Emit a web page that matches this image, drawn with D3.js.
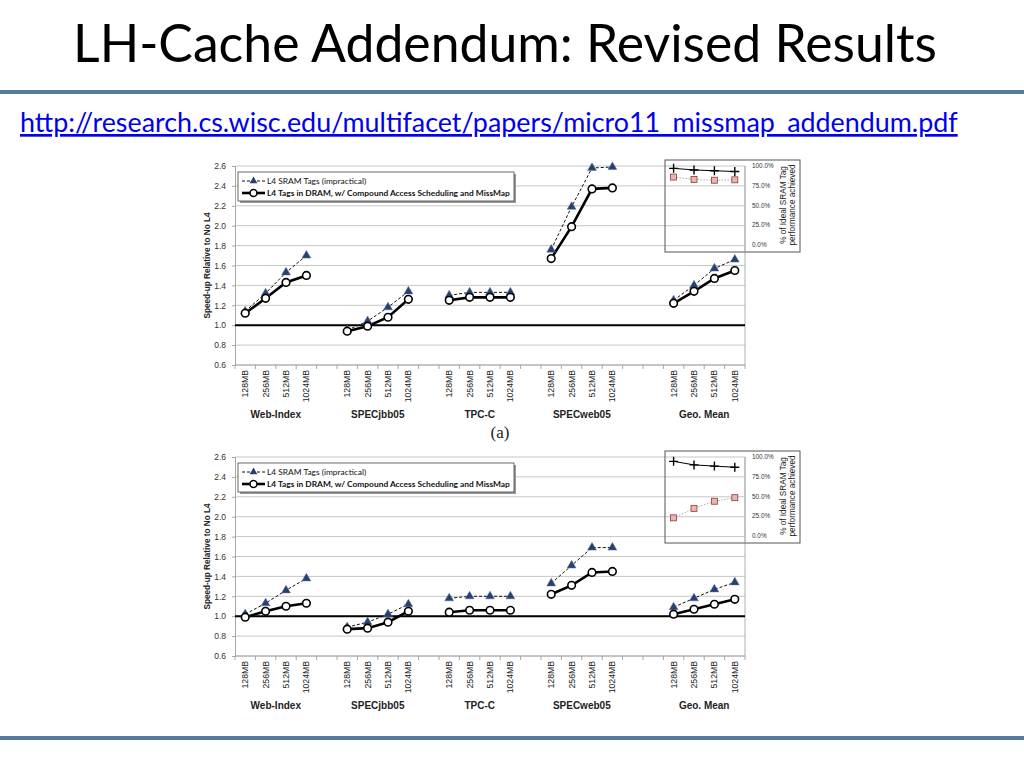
<!DOCTYPE html>
<html><head><meta charset="utf-8">
<script src="https://cdn.jsdelivr.net/npm/d3@7"></script>
<style>html,body{margin:0;padding:0;background:#fff;}svg{display:block;}</style>
</head><body>
<script>
// ---- data ----
const sizes = ["128MB","256MB","512MB","1024MB"];
const groups = ["Web-Index","SPECjbb05","TPC-C","SPECweb05","Geo. Mean"];
const gapsAfter = [1,1,1,2,0];
const yTicks = [0.6,0.8,1.0,1.2,1.4,1.6,1.8,2.0,2.2,2.4,2.6];
const insetTicks = [0,0.25,0.5,0.75,1.0];
const legendLabels = ["L4 SRAM Tags (impractical)","L4 Tags in DRAM, w/ Compound Access Scheduling and MissMap"];

const sramA = [[1.14,1.32,1.53,1.70],[0.95,1.04,1.18,1.34],[1.30,1.33,1.33,1.33],[1.76,2.19,2.58,2.59],[1.25,1.40,1.57,1.66]];
const dramA = [[1.12,1.27,1.43,1.50],[0.94,0.99,1.08,1.26],[1.25,1.28,1.28,1.28],[1.67,1.99,2.37,2.38],[1.22,1.34,1.47,1.55]];
const idealA = [0.97,0.95,0.94,0.93];
const pctA = [0.86,0.83,0.82,0.825];

const sramB = [[1.02,1.13,1.26,1.38],[0.89,0.94,1.02,1.12],[1.18,1.20,1.20,1.20],[1.33,1.51,1.69,1.69],[1.09,1.18,1.27,1.34]];
const dramB = [[0.99,1.05,1.10,1.13],[0.87,0.88,0.94,1.05],[1.04,1.06,1.06,1.06],[1.22,1.31,1.44,1.45],[1.02,1.07,1.12,1.17]];
const idealB = [0.945,0.90,0.885,0.87];
const pctB = [0.23,0.35,0.44,0.485];

const W = 1024, H = 768;
const svg = d3.select("body").append("svg").attr("width",W).attr("height",H);

// ---- slide chrome ----
const title = svg.append("text").attr("x",505).attr("y",62).attr("text-anchor","middle")
  .style("font-family","Lato, 'Open Sans', sans-serif").style("font-size","50px").style("fill","#000")
  .text("LH-Cache Addendum: Revised Results");
function fit(sel, target){ const w = sel.node().getComputedTextLength(); const fs = parseFloat(sel.style("font-size")); sel.style("font-size",(fs*target/w)+"px"); }
fit(title, 864);
svg.append("rect").attr("x",0).attr("y",90).attr("width",W).attr("height",4).attr("fill","#587b9c");
svg.append("rect").attr("x",0).attr("y",736).attr("width",W).attr("height",4).attr("fill","#587b9c");
const url = svg.append("text").attr("x",20).attr("y",132)
  .style("font-family","Lato, 'Open Sans', sans-serif").style("font-size","24px").style("fill","#0000ee")
  .style("text-decoration","underline")
  .text("http://research.cs.wisc.edu/multifacet/papers/micro11_missmap_addendum.pdf");
fit(url, 938);

// ---- slots ----
const slots = [];
groups.forEach((g,gi)=>{
  sizes.forEach(s=>slots.push(g+"|"+s));
  for(let k=0;k<gapsAfter[gi];k++) slots.push(g+"|gap"+k);
});
const x = d3.scaleBand().domain(slots).range([235,745]).padding(0);
const cx = k => x(k)+x.bandwidth()/2;

const axisFont = "'Liberation Sans', Arial, sans-serif";

function drawChart(top, sram, dram, ideal, pct, showA){
  const y = d3.scaleLinear().domain([0.6,2.6]).range([top+199, top]);
  const g = svg.append("g");
  g.selectAll(".grid").data(yTicks).join("line")
    .attr("x1",235).attr("x2",745).attr("y1",d=>y(d)).attr("y2",d=>y(d))
    .attr("stroke","#c6c6c6").attr("stroke-width",1);
  const ya = g.append("g").attr("transform","translate(235,0)")
    .call(d3.axisLeft(y).tickValues(yTicks).tickFormat(d3.format(".1f")).tickSize(3).tickPadding(6));
  ya.select(".domain").attr("stroke","#a6a6a6");
  ya.selectAll(".tick line").attr("stroke","#a6a6a6");
  ya.selectAll("text").style("font-family",axisFont).style("font-size","8.5px").style("fill","#333");
  g.append("line").attr("x1",745).attr("x2",745).attr("y1",y(2.6)).attr("y2",y(0.6)).attr("stroke","#b0b0b0");
  g.append("line").attr("x1",235).attr("x2",745).attr("y1",y(0.6)).attr("y2",y(0.6)).attr("stroke","#a6a6a6");
  const bounds = slots.map(s=>x(s)).concat([745]);
  g.selectAll(".xt").data(bounds).join("line")
    .attr("x1",d=>d).attr("x2",d=>d).attr("y1",y(0.6)).attr("y2",y(0.6)+4).attr("stroke","#a6a6a6");
  g.append("line").attr("x1",235).attr("x2",745).attr("y1",y(1.0)).attr("y2",y(1.0))
    .attr("stroke","#000").attr("stroke-width",2);
  g.append("text").attr("transform",`translate(207,${(y(0.6)+y(2.6))/2}) rotate(-90)`)
    .attr("text-anchor","middle").attr("dy","0.35em")
    .style("font-family",axisFont).style("font-size","8.2px").style("font-weight","bold").style("fill","#222")
    .text("Speed-up Relative to No L4");
  groups.forEach((gn,gi)=>{
    sizes.forEach(s=>{
      g.append("text").attr("transform",`translate(${cx(gn+"|"+s)+3},${y(0.6)+5}) rotate(-90)`)
        .attr("text-anchor","end")
        .style("font-family",axisFont).style("font-size","8.7px").style("fill","#222").text(s);
    });
    const c = (cx(gn+"|"+sizes[0])+cx(gn+"|"+sizes[3]))/2;
    g.append("text").attr("x",c).attr("y",y(0.6)+53).attr("text-anchor","middle")
      .style("font-family",axisFont).style("font-size","10px").style("font-weight","bold").style("fill","#222").text(gn);
  });
  const line = d3.line().x(d=>cx(d.k)).y(d=>y(d.v));
  groups.forEach((gn,gi)=>{
    const sd = sizes.map((s,i)=>({k:gn+"|"+s, v:sram[gi][i]}));
    const dd = sizes.map((s,i)=>({k:gn+"|"+s, v:dram[gi][i]}));
    g.append("path").attr("d",line(sd)).attr("fill","none").attr("stroke","#111").attr("stroke-width",1).attr("stroke-dasharray","3,2");
    g.append("path").attr("d",line(dd)).attr("fill","none").attr("stroke","#000").attr("stroke-width",2.6);
    g.selectAll(null).data(sd).join("path")
      .attr("transform",d=>`translate(${cx(d.k)},${y(d.v)})`)
      .attr("d",d3.symbol(d3.symbolTriangle,34)())
      .attr("fill","#27406e").attr("stroke","#5a73a0").attr("stroke-width",0.5);
    g.selectAll(null).data(dd).join("circle")
      .attr("cx",d=>cx(d.k)).attr("cy",d=>y(d.v)).attr("r",3.8)
      .attr("fill","#fff").attr("stroke","#000").attr("stroke-width",1.6);
  });
  const lg = g.append("g");
  lg.append("rect").attr("x",240).attr("y",top+8).attr("width",276).attr("height",29).attr("fill","#9a9a9a");
  lg.append("rect").attr("x",238).attr("y",top+6).attr("width",276).attr("height",29).attr("fill","#fff").attr("stroke","#444").attr("stroke-width",0.8);
  const r1 = top+15, r2 = top+27;
  lg.append("line").attr("x1",242).attr("x2",265).attr("y1",r1).attr("y2",r1).attr("stroke","#111").attr("stroke-dasharray","3,2");
  lg.append("path").attr("transform",`translate(253.5,${r1})`).attr("d",d3.symbol(d3.symbolTriangle,26)()).attr("fill","#27406e");
  lg.append("line").attr("x1",242).attr("x2",265).attr("y1",r2).attr("y2",r2).attr("stroke","#000").attr("stroke-width",2.6);
  lg.append("circle").attr("cx",253.5).attr("cy",r2).attr("r",3.5).attr("fill","#fff").attr("stroke","#000").attr("stroke-width",1.5);
  [r1,r2].forEach((ry,i)=>{
    lg.append("text").attr("x",267).attr("y",ry).attr("dy","0.35em")
      .style("font-family","Lato, sans-serif").style("font-size","8.4px").style("font-weight", i==1?"bold":"normal").style("fill","#111")
      .text(legendLabels[i]);
  });
  const iy = d3.scaleLinear().domain([0,1]).range([top+79, top]);
  const ig = g.append("g");
  ig.append("rect").attr("x",665).attr("y",top-6).attr("width",135).attr("height",92).attr("fill","none").attr("stroke","#555").attr("stroke-width",1);
  ig.append("line").attr("x1",745).attr("x2",745).attr("y1",top).attr("y2",top+86).attr("stroke","#b0b0b0");
  ig.selectAll(".it").data(insetTicks).join("text").attr("x",752).attr("y",d=>iy(d)).attr("dy","0.35em")
    .style("font-family",axisFont).style("font-size","6.4px").style("fill","#333").text(d=>d3.format(".1%")(d));
  const geo = groups[4];
  const ip = sizes.map((s,i)=>({k:geo+"|"+s, v:ideal[i]}));
  const iq = sizes.map((s,i)=>({k:geo+"|"+s, v:pct[i]}));
  const il = d3.line().x(d=>cx(d.k)).y(d=>iy(d.v));
  ig.append("path").attr("d",il(ip)).attr("fill","none").attr("stroke","#000").attr("stroke-width",1);
  ig.append("path").attr("d",il(iq)).attr("fill","none").attr("stroke","#999").attr("stroke-width",0.8).attr("stroke-dasharray","1.5,1.5");
  ig.selectAll(null).data(ip).join("path").attr("transform",d=>`translate(${cx(d.k)},${iy(d.v)})`)
    .attr("d","M-4.5,0H4.5M0,-4.5V4.5").attr("stroke","#000").attr("stroke-width",1.4);
  ig.selectAll(null).data(iq).join("rect").attr("x",d=>cx(d.k)-3).attr("y",d=>iy(d.v)-3).attr("width",6).attr("height",6)
    .attr("fill","#e9b5ae").attr("stroke","#8c3b3b").attr("stroke-width",0.8);
  const tt = ig.append("text").attr("transform",`translate(787,${top+39}) rotate(-90)`).attr("text-anchor","middle")
    .style("font-family",axisFont).style("font-size","8.2px").style("fill","#222");
  tt.append("tspan").attr("x",0).attr("dy","-0.15em").text("% of Ideal SRAM Tag");
  tt.append("tspan").attr("x",0).attr("dy","1.1em").text("performance achieved");
  if(showA){
    g.append("text").attr("x",500).attr("y",y(0.6)+73).attr("text-anchor","middle")
      .style("font-family","'Liberation Serif', 'DejaVu Serif', serif").style("font-size","17px").style("fill","#222").text("(a)");
  }
}
drawChart(166, sramA, dramA, idealA, pctA, true);
drawChart(457, sramB, dramB, idealB, pctB, false);
</script>
</body></html>
